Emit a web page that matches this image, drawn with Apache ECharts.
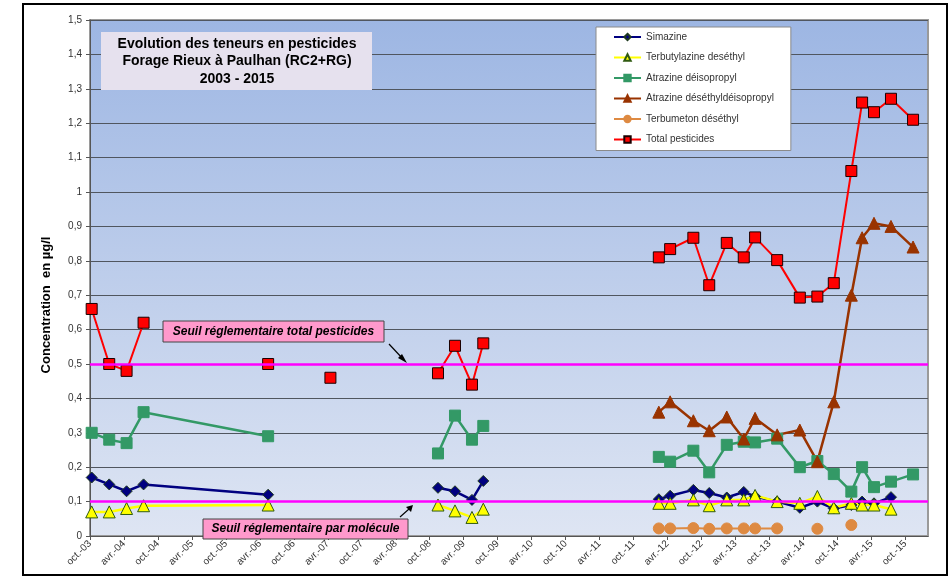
<!DOCTYPE html>
<html>
<head>
<meta charset="utf-8">
<script src="https://cdn.jsdelivr.net/npm/echarts@6/dist/echarts.min.js"></script>
<style>
  html, body { margin: 0; padding: 0; background: #fff; }
  #chart { width: 950px; height: 578px; }
</style>
</head>
<body>
<div id="chart"></div>
<script>
// sampling dates (all series share them)
const dates = [
  '2003-10-10', '2004-01-13', '2004-04-15', '2004-07-15', '2006-05-15', '2007-04-15',
  '2008-11-15', '2009-02-15', '2009-05-15', '2009-07-15',
  '2012-02-15', '2012-04-15', '2012-08-18', '2012-11-12', '2013-02-15', '2013-05-15',
  '2013-07-15', '2013-11-12', '2014-03-12', '2014-06-15', '2014-09-12', '2014-12-15',
  '2015-02-12', '2015-04-15', '2015-07-15', '2015-11-12'
];

// µg/l, null = pas de mesure
const simazine = [0.17, 0.15, 0.13, 0.15, 0.12, null, 0.14, 0.13, 0.105, 0.16,
  0.107, 0.117, 0.134, 0.125, 0.112, 0.128, 0.115, 0.10, 0.082, 0.10, 0.08, 0.09, 0.10, 0.095, 0.113, null];
const terbutylazine = [0.07, 0.07, 0.08, 0.088, 0.09, null, 0.09, 0.073, 0.054, 0.078,
  0.095, 0.095, 0.105, 0.088, 0.105, 0.105, 0.118, 0.10, 0.095, 0.115, 0.082, 0.095, 0.09, 0.09, 0.078, null];
const atrazineDeiso = [0.30, 0.28, 0.27, 0.36, 0.29, null, 0.24, 0.35, 0.28, 0.32,
  0.23, 0.216, 0.248, 0.185, 0.265, 0.274, 0.272, 0.283, 0.20, 0.218, 0.18, 0.129, 0.20, 0.142, 0.158, 0.179];
const atrazineDesDeiso = [null, null, null, null, null, null, null, null, null, null,
  0.36, 0.39, 0.335, 0.306, 0.346, 0.282, 0.342, 0.294, 0.308, 0.216, 0.39, 0.70, 0.867, 0.909, 0.90, 0.84];
const terbumeton = [null, null, null, null, null, null, null, null, null, null,
  0.022, 0.022, 0.023, 0.021, 0.022, 0.022, 0.022, 0.022, null, 0.021, null, 0.032, null, null, null, null];
const totalPesticides = [0.66, 0.50, 0.48, 0.62, 0.50, 0.46, 0.473, 0.553, 0.44, 0.56,
  0.81, 0.834, 0.867, 0.729, 0.852, 0.81, 0.868, 0.802, 0.693, 0.696, 0.735, 1.061, 1.26, 1.232, 1.271, 1.21];

// the line is cut after these indexes
const breaksAll = [9];
const breaksTotal = [3, 4, 5, 9];

const tickLabels = ['oct.-03', 'avr.-04', 'oct.-04', 'avr.-05', 'oct.-05', 'avr.-06', 'oct.-06',
  'avr.-07', 'oct.-07', 'avr.-08', 'oct.-08', 'avr.-09', 'oct.-09', 'avr.-10', 'oct.-10',
  'avr.-11', 'oct.-11', 'avr.-12', 'oct.-12', 'avr.-13', 'oct.-13', 'avr.-14', 'oct.-14',
  'avr.-15', 'oct.-15'];

const seuilTotal = 0.5;
const seuilMolecule = 0.1;

const FONT = 'Liberation Sans, Arial, sans-serif';

// months since oct. 2003
function toMonth(d) {
  const p = d.split('-').map(Number);
  return (p[0] - 2003) * 12 + (p[1] - 10) + (p[2] - 1) / 30.4;
}

function buildData(values, breaks) {
  const out = [];
  values.forEach((v, i) => {
    out.push([toMonth(dates[i]), v]);
    if (breaks.indexOf(i) >= 0 && i < values.length - 1) {
      out.push([(toMonth(dates[i]) + toMonth(dates[i + 1])) / 2, null]);
    }
  });
  return out;
}

function mkSeries(name, values, breaks, color, symbol, size, border, width) {
  return {
    name: name,
    type: 'line',
    data: buildData(values, breaks),
    connectNulls: false,
    symbol: symbol,
    symbolSize: size,
    showSymbol: true,
    lineStyle: { color: color, width: width },
    itemStyle: { color: color, borderColor: border, borderWidth: 1 },
    emphasis: { disabled: true }
  };
}

const chart = echarts.init(document.getElementById('chart'));

const option = {
  animation: false,
  textStyle: { fontFamily: FONT },
  grid: {
    left: 90, top: 20, right: 22, bottom: 42,
    show: true,
    borderColor: '#9a9a9a',
    borderWidth: 2,
    backgroundColor: {
      type: 'linear', x: 0, y: 0, x2: 0, y2: 1,
      colorStops: [{ offset: 0, color: '#9DB6E3' }, { offset: 1, color: '#DEE5F3' }]
    }
  },
  legend: {
    orient: 'vertical',
    left: 596, top: 27,
    backgroundColor: '#fff',
    borderColor: '#8a8a8a',
    borderWidth: 1,
    padding: [4, 17, 5, 17],
    itemWidth: 27, itemHeight: 8, itemGap: 8.5,
    textStyle: { fontSize: 10, color: '#333', fontFamily: FONT, lineHeight: 12 },
    data: ['Simazine', 'Terbutylazine deséthyl', 'Atrazine déisopropyl',
      'Atrazine déséthyldéisopropyl', 'Terbumeton déséthyl', 'Total pesticides']
  },
  xAxis: {
    type: 'value',
    min: 0, max: 148, interval: 6,
    axisLine: { lineStyle: { color: '#555', width: 1 } },
    axisTick: { show: true, length: 4, lineStyle: { color: '#555' } },
    splitLine: { show: false },
    axisLabel: {
      rotate: 45, fontSize: 10, color: '#333', margin: 6,
      showMaxLabel: false,
      formatter: v => tickLabels[Math.round(v / 6)] || ''
    }
  },
  yAxis: {
    type: 'value',
    min: 0, max: 1.5, interval: 0.1,
    axisLine: { show: true, lineStyle: { color: '#555', width: 1 } },
    axisTick: { show: true, length: 4, lineStyle: { color: '#555' } },
    splitLine: { lineStyle: { color: '#50565f', width: 1 } },
    axisLabel: {
      fontSize: 10, color: '#333', margin: 8,
      formatter: v => String(+v.toFixed(1)).replace('.', ',')
    }
  },
  series: [
    mkSeries('Simazine', simazine, breaksAll, '#000080', 'diamond', 11, '#1f3a1f', 2.5),
    mkSeries('Terbutylazine deséthyl', terbutylazine, breaksAll, '#FFFF00', 'triangle', 12, '#2f5a10', 2.5),
    mkSeries('Atrazine déisopropyl', atrazineDeiso, breaksAll, '#339966', 'rect', 11, '#339966', 2.5),
    mkSeries('Atrazine déséthyldéisopropyl', atrazineDesDeiso, breaksAll, '#993300', 'triangle', 12, '#993300', 2.5),
    mkSeries('Terbumeton déséthyl', terbumeton, breaksAll, '#DE8A42', 'circle', 11, '#DE8A42', 2),
    mkSeries('Total pesticides', totalPesticides, breaksTotal, '#FF0000', 'rect', 11, '#1a0000', 2),
    {
      name: 'seuils',
      type: 'line',
      data: [],
      z: 10,
      markLine: {
        silent: true,
        symbol: ['none', 'none'],
        label: { show: false },
        lineStyle: { color: '#FF00FF', width: 2.5, type: 'solid' },
        data: [{ yAxis: seuilTotal }, { yAxis: seuilMolecule }]
      }
    }
  ],
  graphic: [
    {
      type: 'rect', silent: true, z: 0,
      shape: { x: 23, y: 4, width: 924, height: 571 },
      style: { fill: 'none', stroke: '#000', lineWidth: 2 }
    },
    {
      type: 'text', silent: true, z: 21,
      x: 46, y: 305, rotation: Math.PI / 2,
      style: {
        text: 'Concentration  en µg/l',
        font: 'bold 13px ' + FONT, fill: '#000', align: 'center', verticalAlign: 'middle'
      }
    },
    {
      type: 'rect', silent: true, z: 20,
      shape: { x: 101, y: 32, width: 271, height: 58 },
      style: { fill: '#E6E1EE' }
    },
    {
      type: 'text', silent: true, z: 21,
      x: 237, y: 35,
      style: {
        text: 'Evolution des teneurs en pesticides\nForage Rieux à Paulhan (RC2+RG)\n2003 - 2015',
        font: 'bold 14px ' + FONT, fill: '#000', align: 'center', lineHeight: 17.5
      }
    },
    {
      type: 'rect', silent: true, z: 20,
      shape: { x: 163, y: 321, width: 221, height: 21 },
      style: { fill: '#FF99CC', stroke: '#444', lineWidth: 1 }
    },
    {
      type: 'text', silent: true, z: 21,
      x: 273.5, y: 331.5,
      style: {
        text: 'Seuil réglementaire total pesticides',
        font: 'italic bold 12px ' + FONT, fill: '#000', align: 'center', verticalAlign: 'middle'
      }
    },
    {
      type: 'rect', silent: true, z: 20,
      shape: { x: 203, y: 519, width: 205, height: 20 },
      style: { fill: '#FF99CC', stroke: '#444', lineWidth: 1 }
    },
    {
      type: 'text', silent: true, z: 21,
      x: 305.5, y: 529,
      style: {
        text: 'Seuil réglementaire par molécule',
        font: 'italic bold 12px ' + FONT, fill: '#000', align: 'center', verticalAlign: 'middle'
      }
    },
    // arrows
    {
      type: 'line', silent: true, z: 21,
      shape: { x1: 389, y1: 344, x2: 403, y2: 359 },
      style: { stroke: '#000', lineWidth: 1.2 }
    },
    {
      type: 'polygon', silent: true, z: 21,
      shape: { points: [[407, 363], [398, 358], [402, 354]] },
      style: { fill: '#000' }
    },
    {
      type: 'line', silent: true, z: 21,
      shape: { x1: 400, y1: 517, x2: 409, y2: 509 },
      style: { stroke: '#000', lineWidth: 1.2 }
    },
    {
      type: 'polygon', silent: true, z: 21,
      shape: { points: [[413, 505], [411, 512], [406, 507]] },
      style: { fill: '#000' }
    }
  ]
};

chart.setOption(option);
</script>
</body>
</html>
